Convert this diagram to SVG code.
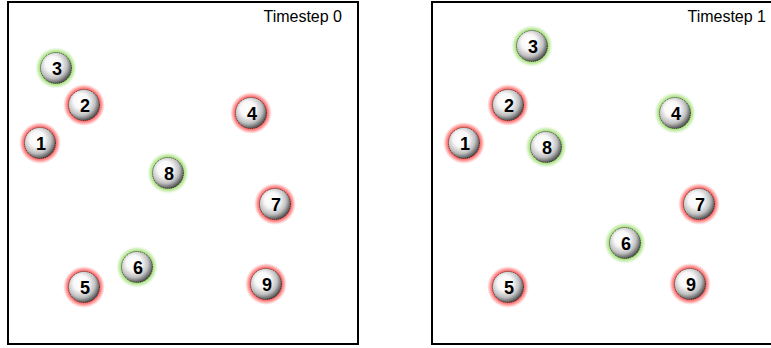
<svg xmlns="http://www.w3.org/2000/svg" width="771" height="348" viewBox="0 0 771 348">
<style>
.panel{fill:#fff;stroke:#000;stroke-width:2}
.title{font-family:"Liberation Sans",Arial,sans-serif;font-size:16px;fill:#000;text-anchor:end}
.ball{fill:url(#ballg);stroke:#222;stroke-width:0.8;stroke-dasharray:1 1}
.red{fill:url(#redg)}
.green{fill:url(#greeng)}
.lbl{font-family:"Liberation Sans",Arial,sans-serif;font-size:18px;font-weight:bold;fill:#000;text-anchor:middle;dominant-baseline:central}
</style>
<defs>
<radialGradient id="ballg" cx="0.42" cy="0.4" r="0.62" fx="0.4" fy="0.36">
<stop offset="0" stop-color="#fff"/>
<stop offset="0.4" stop-color="#f8f8f8"/>
<stop offset="0.72" stop-color="#c0c0c0"/>
<stop offset="1" stop-color="#4a4a4a"/>
</radialGradient>
<radialGradient id="redg" cx="0.5" cy="0.5" r="0.5">
<stop offset="0.7" stop-color="#ff3a3a" stop-opacity="1"/>
<stop offset="0.85" stop-color="#ff6060" stop-opacity="0.6"/>
<stop offset="1" stop-color="#ff9090" stop-opacity="0"/>
</radialGradient>
<radialGradient id="greeng" cx="0.5" cy="0.5" r="0.5">
<stop offset="0.7" stop-color="#8ad850" stop-opacity="1"/>
<stop offset="0.85" stop-color="#a8e080" stop-opacity="0.6"/>
<stop offset="1" stop-color="#c8f0b0" stop-opacity="0"/>
</radialGradient>
</defs>
<g id="panel0">
<rect class="panel" x="8" y="2" width="350" height="342"/>
<text class="title" x="342" y="22">Timestep 0</text>
</g>
<g id="panel1">
<rect class="panel" x="432" y="2" width="350" height="342"/>
<text class="title" x="766" y="22">Timestep 1</text>
</g>
<g id="connectors"></g>
<g id="t0-n3"><circle class="green" cx="56" cy="68" r="21"/><circle class="ball" cx="56" cy="68" r="15.5"/><text class="lbl" x="57" y="69">3</text></g>
<g id="t0-n2"><circle class="red" cx="84" cy="105" r="21"/><circle class="ball" cx="84" cy="105" r="15.5"/><text class="lbl" x="85" y="106">2</text></g>
<g id="t0-n1"><circle class="red" cx="40" cy="143" r="21"/><circle class="ball" cx="40" cy="143" r="15.5"/><text class="lbl" x="41" y="144">1</text></g>
<g id="t0-n8"><circle class="green" cx="168" cy="173" r="21"/><circle class="ball" cx="168" cy="173" r="15.5"/><text class="lbl" x="169" y="174">8</text></g>
<g id="t0-n4"><circle class="red" cx="251" cy="113" r="21"/><circle class="ball" cx="251" cy="113" r="15.5"/><text class="lbl" x="252" y="114">4</text></g>
<g id="t0-n7"><circle class="red" cx="275" cy="204" r="21"/><circle class="ball" cx="275" cy="204" r="15.5"/><text class="lbl" x="276" y="205">7</text></g>
<g id="t0-n6"><circle class="green" cx="137" cy="267" r="21"/><circle class="ball" cx="137" cy="267" r="15.5"/><text class="lbl" x="138" y="268">6</text></g>
<g id="t0-n5"><circle class="red" cx="84" cy="287" r="21"/><circle class="ball" cx="84" cy="287" r="15.5"/><text class="lbl" x="85" y="288">5</text></g>
<g id="t0-n9"><circle class="red" cx="266" cy="284" r="21"/><circle class="ball" cx="266" cy="284" r="15.5"/><text class="lbl" x="267" y="285">9</text></g>
<g id="t1-n3"><circle class="green" cx="532" cy="46" r="21"/><circle class="ball" cx="532" cy="46" r="15.5"/><text class="lbl" x="533" y="47">3</text></g>
<g id="t1-n2"><circle class="red" cx="508" cy="105" r="21"/><circle class="ball" cx="508" cy="105" r="15.5"/><text class="lbl" x="509" y="106">2</text></g>
<g id="t1-n1"><circle class="red" cx="464" cy="143" r="21"/><circle class="ball" cx="464" cy="143" r="15.5"/><text class="lbl" x="465" y="144">1</text></g>
<g id="t1-n8"><circle class="green" cx="546" cy="147" r="21"/><circle class="ball" cx="546" cy="147" r="15.5"/><text class="lbl" x="547" y="148">8</text></g>
<g id="t1-n4"><circle class="green" cx="675" cy="113" r="21"/><circle class="ball" cx="675" cy="113" r="15.5"/><text class="lbl" x="676" y="114">4</text></g>
<g id="t1-n7"><circle class="red" cx="699" cy="204" r="21"/><circle class="ball" cx="699" cy="204" r="15.5"/><text class="lbl" x="700" y="205">7</text></g>
<g id="t1-n6"><circle class="green" cx="625" cy="243" r="21"/><circle class="ball" cx="625" cy="243" r="15.5"/><text class="lbl" x="626" y="244">6</text></g>
<g id="t1-n5"><circle class="red" cx="508" cy="287" r="21"/><circle class="ball" cx="508" cy="287" r="15.5"/><text class="lbl" x="509" y="288">5</text></g>
<g id="t1-n9"><circle class="red" cx="690" cy="284" r="21"/><circle class="ball" cx="690" cy="284" r="15.5"/><text class="lbl" x="691" y="285">9</text></g>
</svg>
